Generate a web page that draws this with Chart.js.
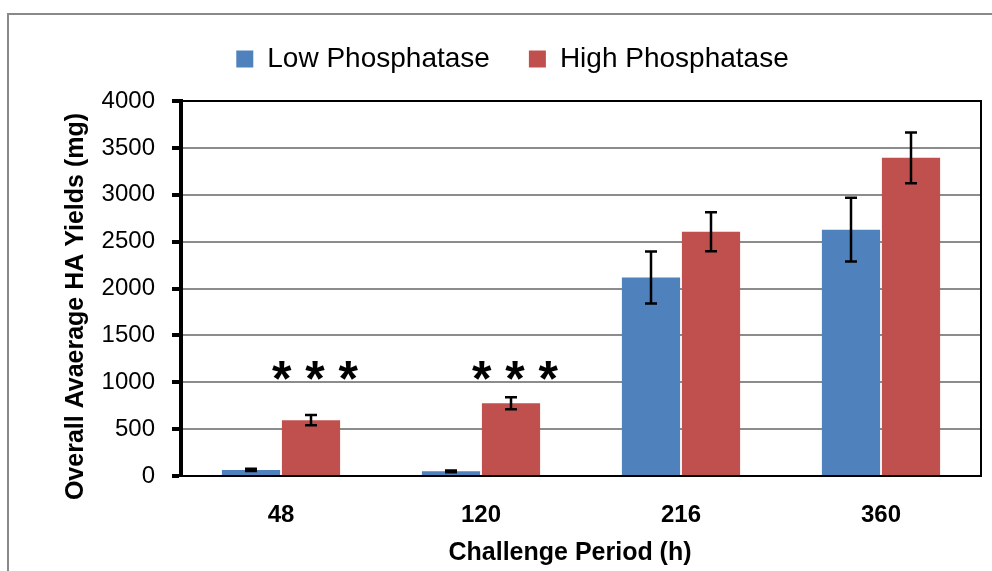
<!DOCTYPE html>
<html lang="en">
<head>
  <meta charset="UTF-8">
  <title>Overall Average HA Yields</title>
  <script src="https://cdn.jsdelivr.net/npm/chart.js"></script>
  <style>
    html, body {
      margin: 0;
      padding: 0;
      background: #fff;
    }
    #wrap {
      width: 992px;
      height: 571px;
    }
  </style>
</head>
<body>
  <div id="wrap">
    <canvas id="grafico" width="992" height="571"></canvas>
  </div>

  <script>
    // data
    const periods = ['48', '120', '216', '360'];
    const lowPhos = [65, 50, 2117, 2628];
    const lowPhosErr = [12, 10, 277, 340];
    const highPhos = [596, 777, 2606, 3394];
    const highPhosErr = [55, 64, 208, 271];
    const significance = ['* * *', '* * *', '', ''];
    const starLevel = 1130;
    const yTicks = [0, 500, 1000, 1500, 2000, 2500, 3000, 3500, 4000];

    const FONT = "'Liberation Sans', Arial, sans-serif";
    const errors = [lowPhosErr, highPhosErr];

    // grey frame around the whole chart
    const frame = {
      id: 'frame',
      beforeDraw(chart) {
        const ctx = chart.ctx;
        ctx.save();
        ctx.fillStyle = '#fff';
        ctx.fillRect(0, 0, chart.width, chart.height);
        ctx.strokeStyle = '#898989';
        ctx.lineWidth = 2;
        ctx.strokeRect(8, 14, chart.width + 20, chart.height + 20);
        ctx.restore();
      }
    };

    // black box around the plot area
    const plotBox = {
      id: 'plotBox',
      afterDraw(chart) {
        const a = chart.chartArea;
        const ctx = chart.ctx;
        ctx.save();
        ctx.strokeStyle = '#000';
        ctx.lineWidth = 2;
        ctx.beginPath();
        ctx.moveTo(a.left, a.top);
        ctx.lineTo(a.right, a.top);
        ctx.lineTo(a.right, a.bottom);
        ctx.stroke();
        ctx.restore();
      }
    };

    // error bars
    const errorBars = {
      id: 'errorBars',
      afterDatasetsDraw(chart) {
        const ctx = chart.ctx;
        const y = chart.scales.y;
        ctx.save();
        ctx.strokeStyle = '#000';
        ctx.lineWidth = 2.5;
        chart.data.datasets.forEach((ds, i) => {
          const meta = chart.getDatasetMeta(i);
          meta.data.forEach((bar, j) => {
            const v = ds.data[j];
            const e = errors[i][j];
            const top = y.getPixelForValue(v + e);
            const bot = y.getPixelForValue(v - e);
            const x = bar.x;
            ctx.beginPath();
            ctx.moveTo(x, top);
            ctx.lineTo(x, bot);
            ctx.moveTo(x - 6, top);
            ctx.lineTo(x + 6, top);
            ctx.moveTo(x - 6, bot);
            ctx.lineTo(x + 6, bot);
            ctx.stroke();
          });
        });
        ctx.restore();
      }
    };

    // significance stars + axis titles
    const annotations = {
      id: 'annotations',
      afterDraw(chart) {
        const ctx = chart.ctx;
        const y = chart.scales.y;
        const a = chart.chartArea;
        const high = chart.getDatasetMeta(1);
        ctx.save();
        ctx.fillStyle = '#000';
        ctx.textAlign = 'center';
        ctx.font = 'bold 50px ' + FONT;
        significance.forEach((s, j) => {
          if (!s) return;
          const m = ctx.measureText(s);
          const py = y.getPixelForValue(starLevel) +
            (m.actualBoundingBoxAscent - m.actualBoundingBoxDescent) / 2;
          ctx.fillText(s, high.data[j].x + 4, py);
        });

        ctx.font = 'bold 25px ' + FONT;
        ctx.textBaseline = 'middle';
        ctx.fillText('Challenge Period (h)', (a.left + a.right) / 2 - 11, 553);

        ctx.translate(76, (a.top + a.bottom) / 2 + 18);
        ctx.rotate(-Math.PI / 2);
        ctx.fillText('Overall Avaerage HA Yields (mg)', 0, 0);
        ctx.restore();
      }
    };

    new Chart(document.getElementById('grafico'), {
      type: 'bar',
      data: {
        labels: periods,
        datasets: [{
          label: 'Low Phosphatase',
          data: lowPhos,
          backgroundColor: '#4F81BD'
        }, {
          label: 'High Phosphatase',
          data: highPhos,
          backgroundColor: '#C0504D'
        }]
      },
      options: {
        responsive: false,
        animation: false,
        devicePixelRatio: 1,
        layout: {
          padding: { top: 6, right: 11, left: 44, bottom: 0 }
        },
        plugins: {
          legend: {
            position: 'top',
            labels: {
              color: '#000',
              font: { family: FONT, size: 28 },
              boxWidth: 17,
              boxHeight: 17,
              padding: 39
            }
          },
          // empty block used as a gap between legend and plot
          subtitle: {
            display: true,
            text: '',
            weight: 500,
            font: { size: 10 },
            padding: { top: 0, bottom: 6 }
          },
          tooltip: { enabled: false }
        },
        datasets: {
          bar: {
            categoryPercentage: 0.6,
            barPercentage: 0.97
          }
        },
        scales: {
          x: {
            afterFit: s => { s.height = 95; },
            grid: { display: false, drawTicks: false },
            border: { color: '#000', width: 2 },
            ticks: {
              color: '#000',
              padding: 25,
              font: { family: FONT, size: 24, weight: 'bold' }
            }
          },
          y: {
            min: 0,
            max: 4000,
            afterFit: s => { s.width = 137; },
            afterBuildTicks: s => { s.ticks = yTicks.map(v => ({ value: v })); },
            grid: {
              color: '#8c8c8c',
              lineWidth: 2,
              tickColor: '#000',
              tickWidth: 4,
              tickLength: 9
            },
            border: { color: '#000', width: 4 },
            ticks: {
              color: '#000',
              padding: 17,
              callback: v => String(v),
              font: { family: FONT, size: 24 }
            }
          }
        }
      },
      plugins: [frame, plotBox, errorBars, annotations]
    });
  </script>
</body>
</html>
